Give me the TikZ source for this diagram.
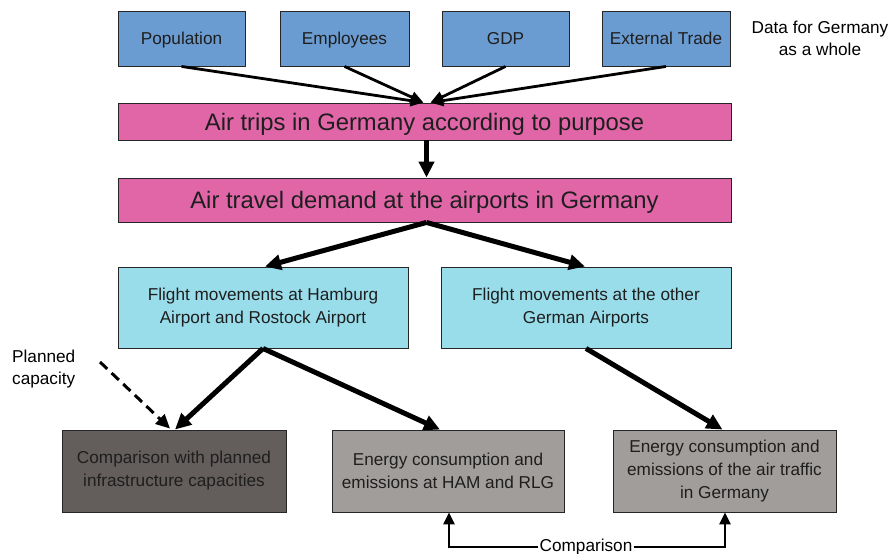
\documentclass[tikz,border=0pt]{standalone}
\usepackage{fontspec}
\setmainfont{Liberation Sans}
\usetikzlibrary{arrows.meta,calc}
\definecolor{topblue}{HTML}{6A9BD1}
\definecolor{pinkc}{HTML}{E066A8}
\definecolor{cyanc}{HTML}{9ADDEA}
\definecolor{darkg}{HTML}{635E5C}
\definecolor{midg}{HTML}{A19D9B}
\definecolor{txt}{HTML}{1E1E1E}
\tikzset{
  box/.style={draw=black!85, line width=0.9pt, rectangle, inner sep=0pt, align=center,
    text=txt, font=\fontsize{17.2}{23}\selectfont},
  topbox/.style={box, fill=topblue, minimum height=55pt},
  pinkbox/.style={box, fill=pinkc, minimum width=613pt, font=\fontsize{23.8}{28}\selectfont,
    text height=17pt, text depth=0pt},
  cyanbox/.style={box, fill=cyanc, minimum width=290pt, minimum height=81pt},
  greybox/.style={box, fill=midg, minimum height=82pt},
  plain/.style={align=center, text=black, font=\fontsize{17.2}{21.5}\selectfont, inner sep=0pt},
  thinarrow/.style={line width=2.8pt, -{Triangle[length=13pt,width=11pt]}},
  thickarrow/.style={line width=5pt, -{Triangle[length=16pt,width=15pt]}},
  dasharrow/.style={line width=3pt, dash pattern=on 10pt off 6pt, -{Triangle[length=14pt,width=13pt]}},
  cmparrow/.style={line width=2.8pt, -{Triangle[length=12pt,width=11pt]}}
}
\begin{document}
\begin{tikzpicture}[x=1pt,y=-1pt]
\useasboundingbox[fill=white] (0,0) rectangle (892,554);
% top row
\node[topbox, minimum width=127pt, text depth=1pt] (pop) at (181.5,38.5) {Population};
\node[topbox, minimum width=129pt, text depth=1pt] (emp) at (344.5,38.5) {Employees};
\node[topbox, minimum width=127pt, text depth=1pt] (gdp) at (505.5,38.5) {GDP};
\node[topbox, minimum width=128pt, text depth=1pt] (ext) at (666,38.5) {External Trade};
\node[plain] (data) at (820,38.5) {Data for Germany\\as a whole};
% pink
\node[pinkbox, minimum height=37pt] (trips) at (424.5,121.5) {Air trips in Germany according to purpose};
\node[pinkbox, minimum height=44pt] (demand) at (424.5,200) {Air travel demand at the airports in Germany};
% cyan
\node[cyanbox] (ham) at (263,307.5) {Flight movements at Hamburg\\Airport and Rostock Airport};
\node[cyanbox] (oth) at (586,307.5) {Flight movements at the other\\German Airports};
% bottom
\node[greybox, fill=darkg, minimum width=224pt] (cmp) at (174,471) {Comparison with planned\\infrastructure capacities};
\node[greybox, minimum width=232pt] (eham) at (448,471) {Energy consumption and\\emissions at HAM and RLG};
\node[greybox, minimum width=223pt] (eger) at (724.5,471) {Energy consumption and\\emissions of the air traffic\\in Germany};
\node[plain, align=left, anchor=west] (plan) at (12,369) {Planned\\capacity};
\coordinate (planstart) at (100,362);
\node[plain, inner xsep=1pt] (cmplbl) at (586,547) {Comparison};
% arrows top
\draw[thinarrow] (pop.south) -- ($(trips.north)+(-1,0)$);
\draw[thinarrow] (emp.south) -- ($(trips.north)+(-1,0)$);
\draw[thinarrow] (gdp.south) -- ($(trips.north)+(6,0)$);
\draw[thinarrow] (ext.south) -- ($(trips.north)+(6,0)$);
\draw[thickarrow] ($(trips.south)+(2,0)$) -- ($(demand.north)+(2,0)$);
\draw[thickarrow] ($(demand.south)+(2,0)$) -- ($(ham.north)+(2,0)$);
\draw[thickarrow] ($(demand.south)+(2,0)$) -- ($(oth.north)+(-1,0)$);
\draw[thickarrow] (ham.south) -- ($(cmp.north)+(1,0)$);
\draw[thickarrow] (ham.south) -- ($(eham.north)+(-8,0)$);
\draw[thickarrow] (oth.south) -- ($(eger.north)+(-2,0)$);
\draw[dasharrow] (planstart) -- ($(cmp.north)+(-4,-1)$);
\draw[cmparrow] (cmplbl.west) -| ($(eham.south)+(1,0)$);
\draw[cmparrow] (cmplbl.east) -| ($(eger.south)+(0.5,0)$);
\end{tikzpicture}
\end{document}
